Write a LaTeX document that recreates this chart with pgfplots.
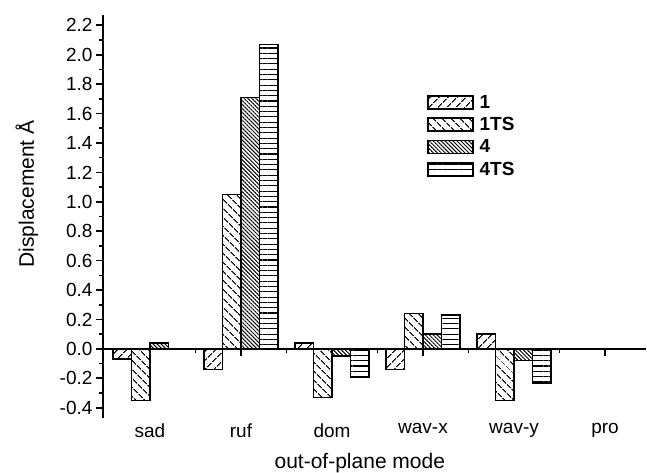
\documentclass[border=0pt]{standalone}
\usepackage{fontspec}
\setmainfont{Liberation Sans}
\usepackage{pgfplots}
\pgfplotsset{compat=1.18}
\usetikzlibrary{patterns.meta}
\begin{document}
\begin{tikzpicture}
\path[use as bounding box] (0,0) rectangle (647pt,472pt);
\begin{axis}[
  at={(103pt,54pt)}, anchor=south west,
  scale only axis, width=543pt, height=403pt,
  xmin=-0.516, xmax=5.45, ymin=-0.47, ymax=2.27,
  axis y line=left, axis x line=middle,
  axis line style={-, line width=1.6pt, black},
  axis on top,
  ybar=0pt, bar width=18.5pt,
  xtick={0,1,2,3,4,5},
  xticklabels={sad,ruf,dom,wav-x,wav-y,pro},
  minor x tick num=1,
  ytick={-0.4,-0.2,0,0.2,0.4,0.6,0.8,1.0,1.2,1.4,1.6,1.8,2.0,2.2},
  minor y tick num=1,
  tick align=outside,
  major tick length=7pt, minor tick length=4pt,
  tick style={line width=1.6pt, black},
  tick label style={font=\fontsize{19}{21}\selectfont},
  xticklabel style={yshift=-64pt},
  yticklabel style={/pgf/number format/.cd, fixed, fixed zerofill, precision=1, assume math mode=true},
  xlabel={out-of-plane mode},
  ylabel={Displacement Å},
  label style={font=\fontsize{21}{24}\selectfont},
  xlabel style={at={(axis description cs:0.473,-0.112)}, anchor=center},
  ylabel style={at={(axis description cs:-0.14,0.556)}, anchor=center},
  legend style={at={(axis description cs:0.591,0.812)}, anchor=north west,
    draw=none, fill=none, font=\bfseries\fontsize{19}{21}\selectfont,
    row sep=3.8pt, nodes={inner ysep=2pt}},
  legend cell align=left,
  legend image code/.code={\draw[#1, line width=1.5pt] (0pt,-6.5pt) rectangle (45pt,6.5pt);
    \path (49pt,0pt);},
  every axis plot/.append style={draw=black, line width=1.6pt},
]
\addplot[pattern={Lines[angle=45, distance=6.4pt, line width=1.1pt]}] coordinates
  {(0,-0.07) (1,-0.14) (2,0.04) (3,-0.14) (4,0.10) (5,0)};
\addplot[pattern={Lines[angle=-45, distance=6.4pt, line width=1.1pt]}] coordinates
  {(0,-0.35) (1,1.05) (2,-0.33) (3,0.24) (4,-0.35) (5,-0.005)};
\addplot[pattern={Lines[angle=-45, distance=2.8pt, line width=1.0pt]}] coordinates
  {(0,0.04) (1,1.71) (2,-0.05) (3,0.10) (4,-0.08) (5,0)};
\addplot[pattern={Lines[angle=0, distance=5.3pt, line width=1.1pt]}] coordinates
  {(0,0) (1,2.07) (2,-0.19) (3,0.23) (4,-0.23) (5,0)};
\legend{1,1TS,4,4TS}
\end{axis}
\end{tikzpicture}
\end{document}
